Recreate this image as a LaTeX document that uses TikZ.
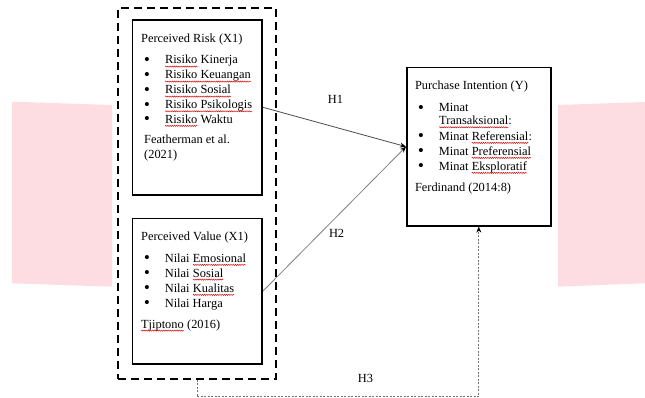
\documentclass[tikz,border=0pt]{standalone}
\usepackage{fontspec}
\setmainfont{Liberation Serif}
\usetikzlibrary{arrows.meta,decorations.pathmorphing}
\newcommand\wv[1]{\tikz[baseline=(wvw.base),x=1pt,y=1pt]{\node[inner sep=0pt,outer sep=0pt,anchor=base west](wvw) at (0,0){#1};\draw[red!85!black,line width=0.45pt,decorate,decoration={snake,amplitude=0.6pt,segment length=2.2pt}] ([yshift=-2.6pt]wvw.base west) -- ([yshift=-2.6pt]wvw.base east);}}
\definecolor{pinkbg}{RGB}{253,221,225}
\begin{document}
\begin{tikzpicture}[x=1pt,y=-1pt,font=\fontsize{12.4}{14}\selectfont,
  txt/.style={inner sep=0pt,anchor=base west},
  bul/.style={inner sep=0pt,anchor=base,font=\fontsize{15}{15}\selectfont\bfseries},
  lbl/.style={inner sep=0pt,anchor=base},
  box/.style={draw=black,line width=1.6pt,anchor=north west,inner sep=0pt},
  groupbox/.style={draw=black,line width=1.8pt,dash pattern=on 8pt off 5pt,anchor=north west,inner sep=0pt},
  tip/.style={-{Stealth[length=6pt,width=5pt,black]}},
  hone/.style={draw=black!70,line width=0.8pt},
  htwo/.style={draw=black!50,line width=0.8pt},
  hthree/.style={draw=black!55,line width=0.7pt,dash pattern=on 2pt off 1.5pt}]
\useasboundingbox (0,0) rectangle (645,398);
% background pink shapes
\fill[pinkbg] (12,101.7) -- (112,105) -- (112,286.7) -- (12,283.3) -- cycle;
\fill[pinkbg] (558,105) -- (645,102) -- (645,283.3) -- (558,286.7) -- cycle;
% boxes
\node[groupbox,minimum width=158pt,minimum height=371pt] (grp) at (117,7) {};
\node[box,minimum width=129.6pt,minimum height=175pt] (risk) at (131.7,19) {};
\node[box,minimum width=129.6pt,minimum height=145.3pt] (value) at (131.7,217.7) {};
\node[box,minimum width=144pt,minimum height=158.3pt] (purch) at (406,66.7) {};
% risk text
\node[txt] (rt) at (141,42.3) {Perceived Risk (X1)};
\node[bul] (rb1) at (147,64.5) {•};
\node[bul] (rb2) at (147,79.5) {•};
\node[bul] (rb3) at (147,94.5) {•};
\node[bul] (rb4) at (147,109.2) {•};
\node[bul] (rb5) at (147,123.8) {•};
\node[txt] (r1) at (164.6,64) {\wv{Risiko} Kinerja};
\node[txt] (r2) at (164.6,79) {\wv{Risiko Keuangan}};
\node[txt] (r3) at (164.6,94) {\wv{Risiko Sosial}};
\node[txt] (r4) at (164.6,108.7) {\wv{Risiko Psikologis}};
\node[txt] (r5) at (164.6,123.3) {\wv{Risiko} Waktu};
\node[txt] (rs1) at (144,144) {Featherman et al.};
\node[txt] (rs2) at (144,158.3) {(2021)};
% value text
\node[txt] (vt) at (141,240.7) {Perceived Value (X1)};
\node[bul] (vb1) at (147,262.8) {•};
\node[bul] (vb2) at (147,277.5) {•};
\node[bul] (vb3) at (147,292.8) {•};
\node[bul] (vb4) at (147,307.8) {•};
\node[txt] (v1) at (164.6,262.3) {Nilai \wv{Emosional}};
\node[txt] (v2) at (164.6,277) {Nilai \wv{Sosial}};
\node[txt] (v3) at (164.6,292.3) {Nilai \wv{Kualitas}};
\node[txt] (v4) at (164.6,307.3) {Nilai Harga};
\node[txt] (vs) at (140.7,328) {\wv{Tjiptono} (2016)};
% purchase text
\node[txt] (pt) at (414.8,90) {Purchase Intention (Y)};
\node[bul] (pb1) at (421,112.2) {•};
\node[bul] (pb2) at (421,140.8) {•};
\node[bul] (pb3) at (421,155.8) {•};
\node[bul] (pb4) at (421,170.8) {•};
\node[txt] (p1) at (438.7,111.7) {Minat};
\node[txt] (p1b) at (438.7,124.7) {\wv{Transaksional}:};
\node[txt] (p2) at (438.7,140.3) {Minat \wv{Referensial}:};
\node[txt] (p3) at (438.7,155.3) {Minat \wv{Preferensial}};
\node[txt] (p4) at (438.7,170.3) {Minat \wv{Eksploratif}};
\node[txt] (ps) at (414.8,191.7) {Ferdinand (2014:8)};
% connectors
\draw[hone,tip] (risk.east) -- (purch.west);
\draw[htwo,tip] (value.east) -- (purch.west);
\draw[hthree,tip] (grp.south) -- ++(0,17) -| (purch.south);
% labels
\node[lbl] (h1) at (335.4,103.5) {H1};
\node[lbl] (h2) at (336.6,237) {H2};
\node[lbl] (h3) at (365.4,382) {H3};
\end{tikzpicture}
\end{document}
